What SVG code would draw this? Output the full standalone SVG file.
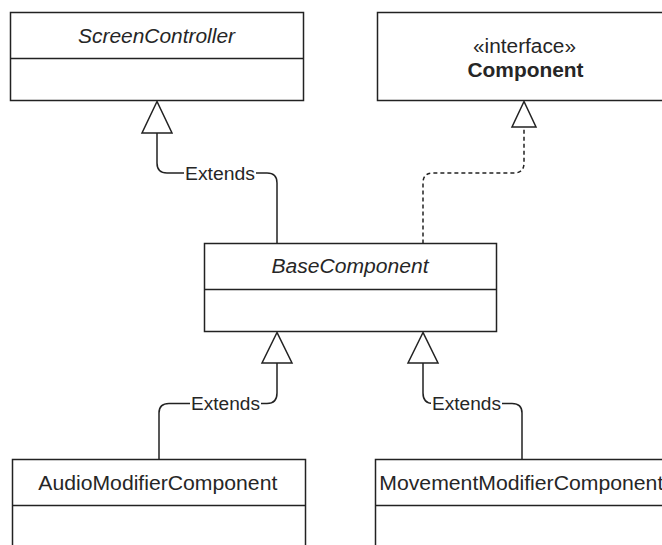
<svg xmlns="http://www.w3.org/2000/svg" width="662" height="545" viewBox="0 0 662 545">
  <style>
    .box { fill: #ffffff; stroke: #222222; stroke-width: 1.5; }
    .sep { fill: none; stroke: #222222; stroke-width: 1.5; }
    .name { font-family: "Liberation Sans", Arial, sans-serif; font-size: 19.5px; fill: #262626; text-anchor: middle; }
    .abstract { font-style: italic; }
    .bold { font-weight: bold; }
    .edge { fill: none; stroke: #222222; stroke-width: 1.5; }
    .dashed { stroke-dasharray: 4 3; }
    .head { fill: #ffffff; stroke: #222222; stroke-width: 1.5; stroke-linejoin: miter; }
    .lblbg { fill: #ffffff; }
    .lbl { font-family: "Liberation Sans", Arial, sans-serif; font-size: 18px; fill: #262626; text-anchor: middle; }
  </style>

  <rect width="662" height="545" fill="#ffffff"/>

  <!-- connectors -->
  <g id="connectors">
    <!-- BaseComponent extends ScreenController -->
    <path class="edge" d="M277,243.5 V183 Q277,173 267,173 H167 Q157,173 157,163 V133"/>
    <polygon class="head" points="157,101.5 142,133 172,133"/>
    <rect class="lblbg" x="184" y="164" width="72" height="19"/>
    <text class="lbl" x="220" y="179.5" textLength="70" lengthAdjust="spacingAndGlyphs">Extends</text>

    <!-- BaseComponent realizes Component -->
    <path class="edge dashed" d="M423,243.5 V183 Q423,173 433,173 H514 Q524,173 524,163 V127"/>
    <polygon class="head" points="524,101.5 512,127 536,127"/>

    <!-- AudioModifierComponent extends BaseComponent -->
    <path class="edge" d="M159,459.5 V413 Q159,403.5 169,403.5 H267 Q277,403.5 277,393 V363"/>
    <polygon class="head" points="277,332.5 262,363 292,363"/>
    <rect class="lblbg" x="190" y="394" width="71" height="19"/>
    <text class="lbl" x="225.5" y="410" textLength="69" lengthAdjust="spacingAndGlyphs">Extends</text>

    <!-- MovementModifierComponent extends BaseComponent -->
    <path class="edge" d="M522,459.5 V413 Q522,403.5 512,403.5 H433 Q423,403.5 423,393 V363"/>
    <polygon class="head" points="423,332.5 408,363 438,363"/>
    <rect class="lblbg" x="431" y="394" width="71" height="19"/>
    <text class="lbl" x="466.5" y="410" textLength="69" lengthAdjust="spacingAndGlyphs">Extends</text>
  </g>

  <!-- classes -->
  <g id="ScreenController">
    <rect class="box" x="10.5" y="12.5" width="293" height="88"/>
    <line class="sep" x1="10.5" y1="58.5" x2="303.5" y2="58.5"/>
    <text class="name abstract" x="156.5" y="43" textLength="157" lengthAdjust="spacingAndGlyphs">ScreenController</text>
  </g>

  <g id="Component">
    <rect class="box" x="377.5" y="12.5" width="293" height="88"/>
    <text class="name" x="524.5" y="53" textLength="103" lengthAdjust="spacingAndGlyphs">«interface»</text>
    <text class="name bold" x="525.5" y="77" textLength="116" lengthAdjust="spacingAndGlyphs">Component</text>
  </g>

  <g id="BaseComponent">
    <rect class="box" x="204.5" y="243.5" width="292" height="88"/>
    <line class="sep" x1="204.5" y1="289.5" x2="496.5" y2="289.5"/>
    <text class="name abstract" x="350" y="273" textLength="157" lengthAdjust="spacingAndGlyphs">BaseComponent</text>
  </g>

  <g id="AudioModifierComponent">
    <rect class="box" x="12.5" y="459.5" width="293" height="92"/>
    <line class="sep" x1="12.5" y1="505.5" x2="305.5" y2="505.5"/>
    <text class="name" x="157.8" y="490" textLength="239" lengthAdjust="spacingAndGlyphs">AudioModifierComponent</text>
  </g>

  <g id="MovementModifierComponent">
    <rect class="box" x="375.5" y="459.5" width="293" height="92"/>
    <line class="sep" x1="375.5" y1="505.5" x2="668.5" y2="505.5"/>
    <text class="name" x="521.3" y="490" textLength="284" lengthAdjust="spacingAndGlyphs">MovementModifierComponent</text>
  </g>
</svg>
